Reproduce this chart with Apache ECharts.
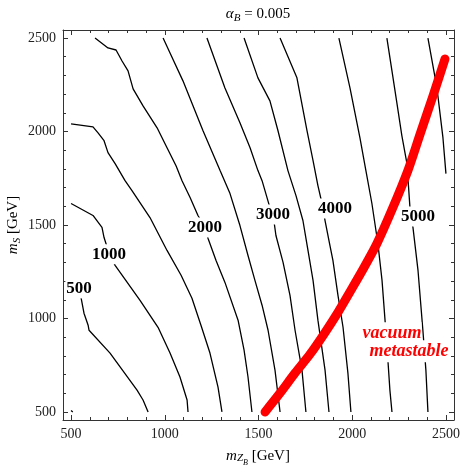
<!DOCTYPE html>
<html><head><meta charset="utf-8">
<script src="https://cdn.jsdelivr.net/npm/echarts@6/dist/echarts.min.js"></script>
<style>html,body{margin:0;padding:0;background:#fff}#chart{width:462px;height:467px}</style>
</head><body><div id="chart"></div>
<script>
// Contour lines, one polyline per level, points as [m_ZB, m_S] in GeV
const levels = [500, 1000, 1500, 2000, 2500, 3000, 3500, 4000, 4500, 5000, 5500];
const contour500 = [[500,1193],[537,1151],[553,1113],[569,1028],[591,964],[596,937],[708,815],[852,617],[884,564],[911,500]];
const contour500Corner = [[500,508],[509,500]];
const contour1000 = [[500,1615],[617,1551],[665,1487],[676,1433],[703,1348],[735,1284],[868,1097],[964,953],[1028,815],[1081,687],[1119,564],[1124,500]];
const contour1500 = [[500,2041],[617,2025],[644,1993],[676,1951],[697,1887],[735,1828],[788,1737],[825,1684],[921,1540],[1012,1364],[1087,1231],[1145,1108],[1193,964],[1241,815],[1284,633],[1305,500]];
const contour2000 = [[628,2500],[697,2447],[740,2436],[772,2377],[804,2324],[831,2228],[884,2137],[959,2020],[1012,1913],[1060,1817],[1092,1737],[1135,1647],[1177,1551],[1215,1487],[1231,1428],[1273,1311],[1321,1193],[1391,991],[1423,831],[1444,687],[1465,500]];
const contour2500 = [[991,2500],[1028,2420],[1097,2271],[1204,2004],[1295,1791],[1348,1668],[1401,1497],[1444,1337],[1481,1204],[1519,1071],[1551,937],[1588,724],[1615,500]];
const contour3000 = [[1225,2500],[1321,2233],[1401,2047],[1455,1913],[1497,1791],[1519,1737],[1561,1593],[1577,1561],[1593,1444],[1631,1300],[1668,1124],[1695,937],[1732,724],[1753,500]];
const contour3500 = [[1423,2500],[1497,2287],[1561,2164],[1604,2004],[1657,1791],[1700,1657],[1737,1524],[1764,1364],[1791,1204],[1817,991],[1855,724],[1876,500]];
const contour4000 = [[1615,2500],[1705,2287],[1759,2004],[1791,1844],[1817,1711],[1839,1615],[1855,1524],[1881,1391],[1897,1311],[1924,1124],[1951,953],[1977,708],[1993,500]];
const contour4500 = [[1929,2500],[1988,2233],[2041,1967],[2073,1791],[2105,1615],[2137,1401],[2159,1204],[2175,991],[2185,857],[2191,767],[2201,617],[2212,500]];
const contour5000 = [[2185,2500],[2212,2324],[2239,2148],[2265,1977],[2292,1828],[2308,1593],[2324,1487],[2351,1257],[2377,937],[2393,724],[2404,500]];
const contour5500 = [[2404,2500],[2452,2233],[2484,1967],[2500,1775]];
const contourLines = [contour500, contour500Corner, contour1000, contour1500, contour2000, contour2500,
  contour3000, contour3500, contour4000, contour4500, contour5000, contour5500];

// Inline contour labels: level and anchor point
const labelLevels = [500, 1000, 2000, 3000, 4000, 5000];
const labelMZB = [543, 703, 1215, 1577, 1908, 2351];
const labelMS = [1161, 1343, 1487, 1556, 1588, 1545];

// Boundary beyond which the vacuum is only metastable
const metastableMZB = [1535, 1615, 1695, 1775, 1849, 1924, 1993, 2063, 2132, 2217, 2297, 2361, 2431, 2495];
const metastableMS = [500, 601, 708, 809, 916, 1033, 1151, 1273, 1401, 1593, 1791, 1983, 2191, 2388];

// Frame ticks (GeV)
const majorTicks = [500, 1000, 1500, 2000, 2500];
const minorTicks = [600, 700, 800, 900, 1100, 1200, 1300, 1400, 1600, 1700, 1800, 1900, 2100, 2200, 2300, 2400];
const axisMin = 457, axisMax = 2543;

const serif = "'Liberation Serif', 'Times New Roman', serif";
const frameColor = '#333';

function frameAxis(position, ticks, tickLen, withLabels, withLine) {
  return {
    type: 'value', position: position, min: axisMin, max: axisMax, gridIndex: 0,
    axisLine: { show: withLine, onZero: false, lineStyle: { color: frameColor, width: 1 } },
    axisTick: { show: true, inside: true, length: tickLen, customValues: ticks,
      lineStyle: { color: frameColor, width: 1 } },
    axisLabel: withLabels ? { show: true, customValues: ticks, margin: 7,
      formatter: v => String(v),
      fontFamily: serif, fontSize: 14, color: '#222' } : { show: false },
    splitLine: { show: false }
  };
}

const chart = echarts.init(document.getElementById('chart'), null, { renderer: 'canvas' });

const series = contourLines.map(pts => ({
  type: 'line', data: pts, showSymbol: false, symbol: 'none', silent: true, z: 2,
  lineStyle: { color: '#000', width: 1.3 }
}));

series.push({
  type: 'line', silent: true, z: 3, showSymbol: false, symbol: 'none', smooth: 0.3,
  data: metastableMZB.map((x, i) => [x, metastableMS[i]]),
  lineStyle: { color: '#ff0000', width: 9, cap: 'round', join: 'round' }
});

series.push({
  type: 'scatter', silent: true, z: 5, symbolSize: 0,
  itemStyle: { opacity: 1 },
  data: labelMZB.map((x, i) => ({ value: [x, labelMS[i]], name: String(labelLevels[i]) })),
  label: { show: true, position: 'inside', formatter: p => p.name,
    fontFamily: serif, fontWeight: 'bold', fontSize: 17, color: '#000', opacity: 1,
    textBorderWidth: 0, textBorderColor: 'transparent',
    backgroundColor: '#fff', padding: [2, 1, 1, 1] }
});

series.push({
  type: 'scatter', silent: true, z: 5, symbolSize: 0,
  itemStyle: { opacity: 1 },
  data: [{ value: [2212, 921], name: 'vacuum' }, { value: [2303, 825], name: 'metastable' }],
  label: { show: true, position: 'inside', formatter: p => p.name,
    fontFamily: serif, fontWeight: 'bold', fontStyle: 'italic', fontSize: 18, color: '#ff0000', opacity: 1,
    textBorderWidth: 0, textBorderColor: 'transparent',
    backgroundColor: '#fff', padding: [2, 0, 2, 0] }
});

chart.setOption({
  animation: false,
  backgroundColor: '#fff',
  grid: { left: 63, top: 30, width: 391, height: 390, outerBoundsMode: 'none', containLabel: false },
  xAxis: [
    frameAxis('bottom', majorTicks, 5, true, true),
    frameAxis('bottom', minorTicks, 3, false, false),
    frameAxis('top', majorTicks, 5, false, true),
    frameAxis('top', minorTicks, 3, false, false)
  ],
  yAxis: [
    frameAxis('left', majorTicks, 5, true, true),
    frameAxis('left', minorTicks, 3, false, false),
    frameAxis('right', majorTicks, 5, false, true),
    frameAxis('right', minorTicks, 3, false, false)
  ],
  series: series,
  graphic: [
    {
      type: 'text', x: 258, y: 14, z: 10, silent: true,
      style: {
        text: '{i|α}{s|B}{r| = 0.005}', align: 'center', verticalAlign: 'middle',
        rich: {
          i: { fontFamily: serif, fontStyle: 'italic', fontSize: 15, lineHeight: 20, color: '#222' },
          s: { fontFamily: serif, fontStyle: 'italic', fontSize: 11, verticalAlign: 'bottom', color: '#222' },
          r: { fontFamily: serif, fontSize: 15, lineHeight: 20, color: '#222' }
        }
      }
    },
    {
      type: 'text', x: 258, y: 456, z: 10, silent: true,
      style: {
        text: '{i|m}{s|Z}{ss|B}{r| [GeV]}', align: 'center', verticalAlign: 'middle',
        rich: {
          i: { fontFamily: serif, fontStyle: 'italic', fontSize: 15, lineHeight: 22, color: '#222' },
          s: { fontFamily: serif, fontStyle: 'italic', fontSize: 11, verticalAlign: 'bottom', padding: [0, 0, 3, 0], color: '#222' },
          ss: { fontFamily: serif, fontStyle: 'italic', fontSize: 8, verticalAlign: 'bottom', color: '#222' },
          r: { fontFamily: serif, fontSize: 15, lineHeight: 22, color: '#222' }
        }
      }
    },
    {
      type: 'text', x: 13, y: 225, rotation: Math.PI / 2, z: 10, silent: true,
      style: {
        text: '{i|m}{s|S}{r| [GeV]}', align: 'center', verticalAlign: 'middle',
        rich: {
          i: { fontFamily: serif, fontStyle: 'italic', fontSize: 15, lineHeight: 20, color: '#222' },
          s: { fontFamily: serif, fontStyle: 'italic', fontSize: 11, verticalAlign: 'bottom', color: '#222' },
          r: { fontFamily: serif, fontSize: 15, lineHeight: 20, color: '#222' }
        }
      }
    }
  ]
});
</script>
</body></html>
